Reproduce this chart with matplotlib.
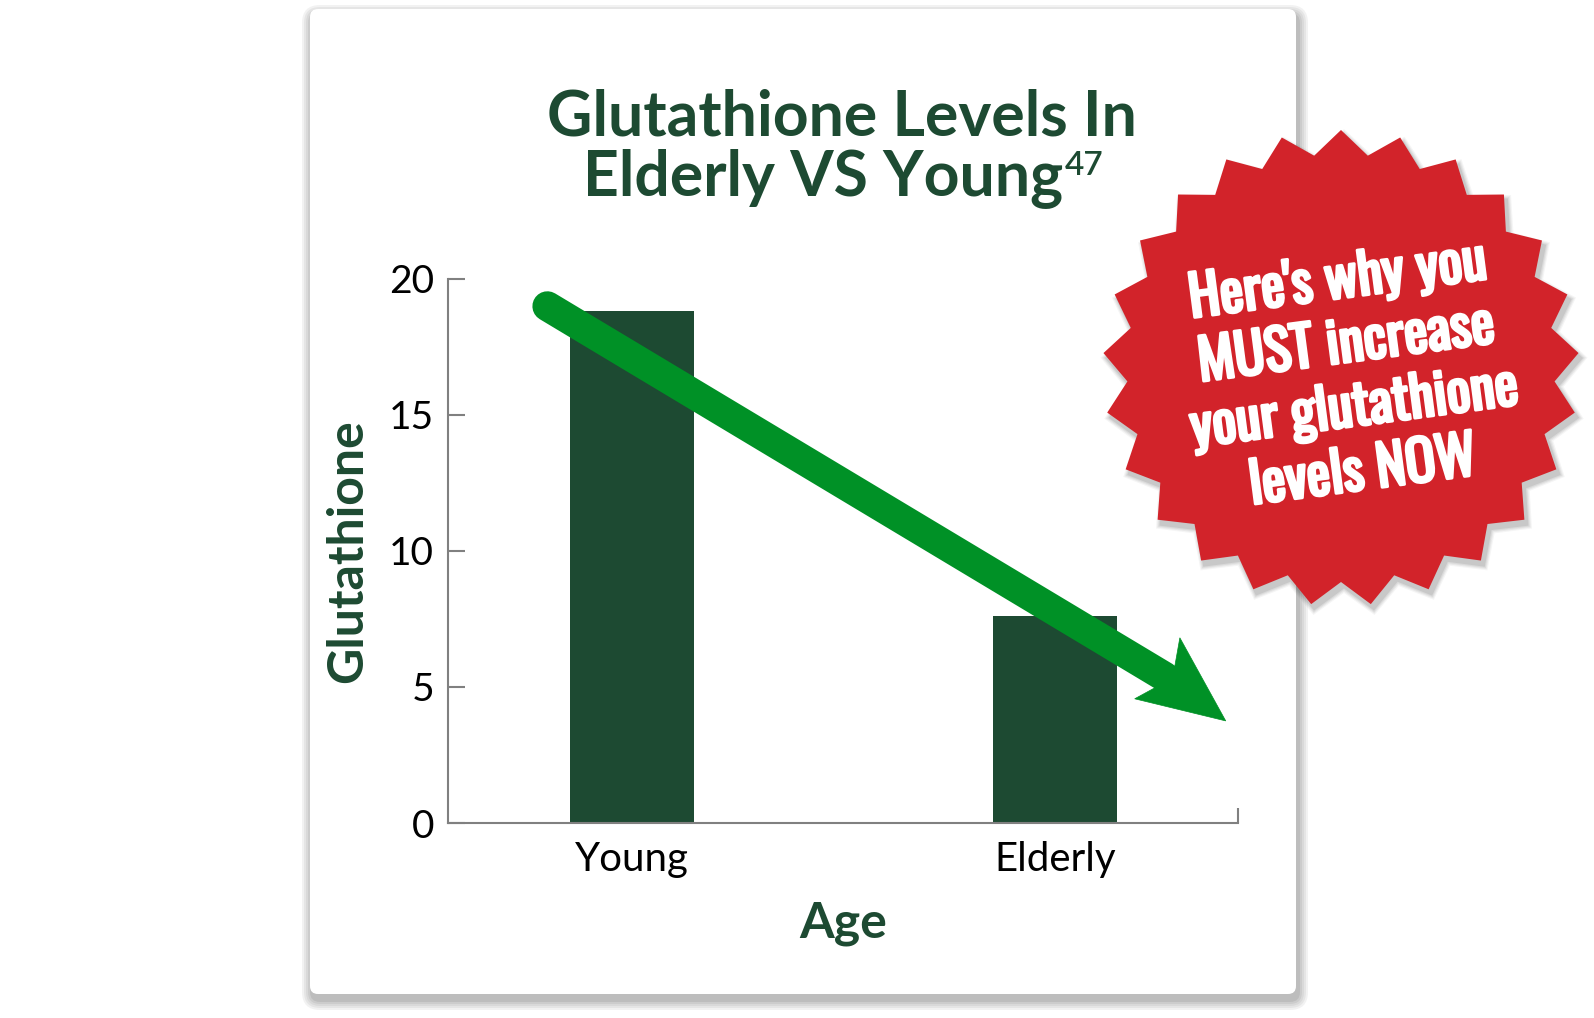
import matplotlib
matplotlib.use("Agg")
import matplotlib.pyplot as plt
import numpy as np
from matplotlib import font_manager
from matplotlib import patheffects
from matplotlib.patches import FancyBboxPatch, Polygon
from matplotlib.lines import Line2D

# data
categories = ["Young", "Elderly"]
values = [18.8, 7.6]
yticks = [0, 5, 10, 15, 20]
title_1 = "Glutathione Levels In"
title_2 = "Elderly VS Young"
title_ref = "47"
badge_text = "Here's why you\nMUST increase\nyour glutathione\nlevels NOW"

# arrow drawn over the bars, in data units (start, tip)
arrow_from = (-0.20, 18.98)
arrow_to = (1.404, 3.75)

W, H = 1594, 1018
DPI = 100
DARK = "#1d4a32"
GREEN = "#009126"
RED = "#d2232a"
GREY = "#808080"

plt.rcParams['font.family'] = ['Lato', 'DejaVu Sans']

# narrowest bold face we can find for the badge
names = {f.name for f in font_manager.fontManager.ttflist}
badge_font = "DejaVu Sans"
for cand in ["Oswald", "League Gothic", "Anton", "Bebas Neue", "Liberation Sans Narrow",
             "Roboto Condensed", "Open Sans Condensed", "Noto Sans Condensed",
             "DejaVu Sans Condensed", "Roboto", "Liberation Sans"]:
    if cand in names:
        badge_font = cand
        break

fig = plt.figure(figsize=(W / DPI, H / DPI), dpi=DPI)
fig.patch.set_facecolor("white")

# background layer in pixel coords (card + shadow)
bg = fig.add_axes([0, 0, 1, 1], zorder=0)
bg.set_xlim(0, W)
bg.set_ylim(H, 0)
bg.axis("off")
cx0, cy0, cx1, cy1 = 310, 9, 1296, 994
for i, a in enumerate([0.05, 0.05, 0.05, 0.06, 0.07]):
    grow = 10 - 2 * i
    bg.add_patch(FancyBboxPatch((cx0 - grow + 2, cy0 - grow + 6), (cx1 - cx0) + 2 * grow,
                                (cy1 - cy0) + 2 * grow,
                                boxstyle="round,pad=0,rounding_size=%d" % (8 + grow),
                                fc="black", ec="none", alpha=a))
bg.add_patch(FancyBboxPatch((cx0, cy0), cx1 - cx0, cy1 - cy0,
                            boxstyle="round,pad=0,rounding_size=8",
                            fc="white", ec="none"))

# main chart
ax = fig.add_axes([448 / W, (H - 823) / H, (1238 - 448) / W, (823 - 278.5) / H], zorder=1)
ax.patch.set_alpha(0)
x = np.arange(len(categories))
ax.bar(x, values, width=0.293, color=DARK, zorder=2)
ax.set_xlim(-0.435, 1.433)
ax.set_ylim(0, 20)
ax.set_yticks(yticks)
ax.set_xticks(x)
ax.set_xticklabels(categories)
ax.set_xticks([1.433], minor=True)
for s in ["top", "right"]:
    ax.spines[s].set_visible(False)
for s in ["left", "bottom"]:
    ax.spines[s].set_color(GREY)
    ax.spines[s].set_linewidth(1.5)
ax.tick_params(axis="y", direction="in", length=12.5, width=1.5, color=GREY,
               labelsize=28, labelcolor="black", pad=10)
ax.tick_params(axis="x", which="major", length=0, labelsize=29, labelcolor="black", pad=13)
ax.tick_params(axis="x", which="minor", direction="in", length=11, width=1.5, color=GREY)

ax.set_ylabel("Glutathione", fontsize=36, fontweight="bold", color=DARK, va="center")
ax.yaxis.set_label_coords(-0.127, 0.5)
ax.set_xlabel("Age", fontsize=36, fontweight="bold", color=DARK, va="baseline")
ax.xaxis.set_label_coords(0.5, (823 - 937) / 544.5)

# title
tx = 842 / W
fig.text(tx, 1 - 135 / H, title_1, ha="center", va="baseline", fontsize=45,
         fontweight="bold", color=DARK)
r = fig.canvas.get_renderer()
t2 = fig.text(tx, 1 - 195 / H, title_2, ha="center", va="baseline", fontsize=45,
              fontweight="bold", color=DARK)
sup = fig.text(0, 1 - 175 / H, title_ref, ha="left", va="baseline", fontsize=24,
               fontweight="semibold", color=DARK)
w2 = t2.get_window_extent(r).width
ws = sup.get_window_extent(r).width
t2.set_x(tx - ws / 2 / W)
sup.set_x(tx - ws / 2 / W + w2 / 2 / W + 2 / W)

# overlay layer: arrow + badge
top = fig.add_axes([0, 0, 1, 1], zorder=3)
top.set_xlim(0, W)
top.set_ylim(H, 0)
top.axis("off")

fig.canvas.draw()
p0 = ax.transData.transform(arrow_from)
p1 = ax.transData.transform(arrow_to)
S = np.array([p0[0], H - p0[1]])
T = np.array([p1[0], H - p1[1]])
u = (T - S) / np.linalg.norm(T - S)
n = np.array([-u[1], u[0]])


def pt(a, b):
    return T + a * u + b * n


head = [pt(-82.5, -47.0), pt(0, 0), pt(-89.2, 28.6), pt(-77.8, 8.8), pt(-72.1, -20.4)]
shaft_end = pt(-75, -5.8)
top.add_line(Line2D([S[0], shaft_end[0]], [S[1], shaft_end[1]], color=GREEN,
                    linewidth=21.6, solid_capstyle="round"))
top.add_patch(Polygon(head, closed=True, fc=GREEN, ec=GREEN, lw=0.5))

# starburst badge
bx, by, R, rr, npts = 1341, 368, 238, 214, 25
ang = -np.pi / 2 + np.arange(2 * npts) * np.pi / npts
rad = np.where(np.arange(2 * npts) % 2 == 0, R, rr)
star = np.column_stack([bx + rad * np.cos(ang), by + rad * np.sin(ang)])
for i, a in enumerate([0.04, 0.05, 0.06, 0.08]):
    g = 6 - 1.5 * i
    sh = np.column_stack([bx + 3 + (rad + g) * np.cos(ang), by + 5 + (rad + g) * np.sin(ang)])
    top.add_patch(Polygon(sh, closed=True, fc="black", ec="none", alpha=a))
top.add_patch(Polygon(star, closed=True, fc=RED, ec="none"))

# size the badge text so the widest line is ~336 px
fs = 37
probe = fig.text(0, 0, "your glutathione", fontsize=fs, fontweight="bold",
                 family=[badge_font, "DejaVu Sans"])
pw = probe.get_window_extent(r).width
probe.remove()
fs = min(fs * 330 / pw, 44)
top.text(1350, 376, badge_text, ha="center", va="center", rotation=7.5,
         rotation_mode="anchor", multialignment="center", fontsize=fs,
         fontweight="bold", family=[badge_font, "DejaVu Sans"],
         color="white", linespacing=66 / (fs * DPI / 72),
         path_effects=[patheffects.withStroke(linewidth=2.2, foreground="white")])

fig.savefig("out.png", dpi=DPI)
